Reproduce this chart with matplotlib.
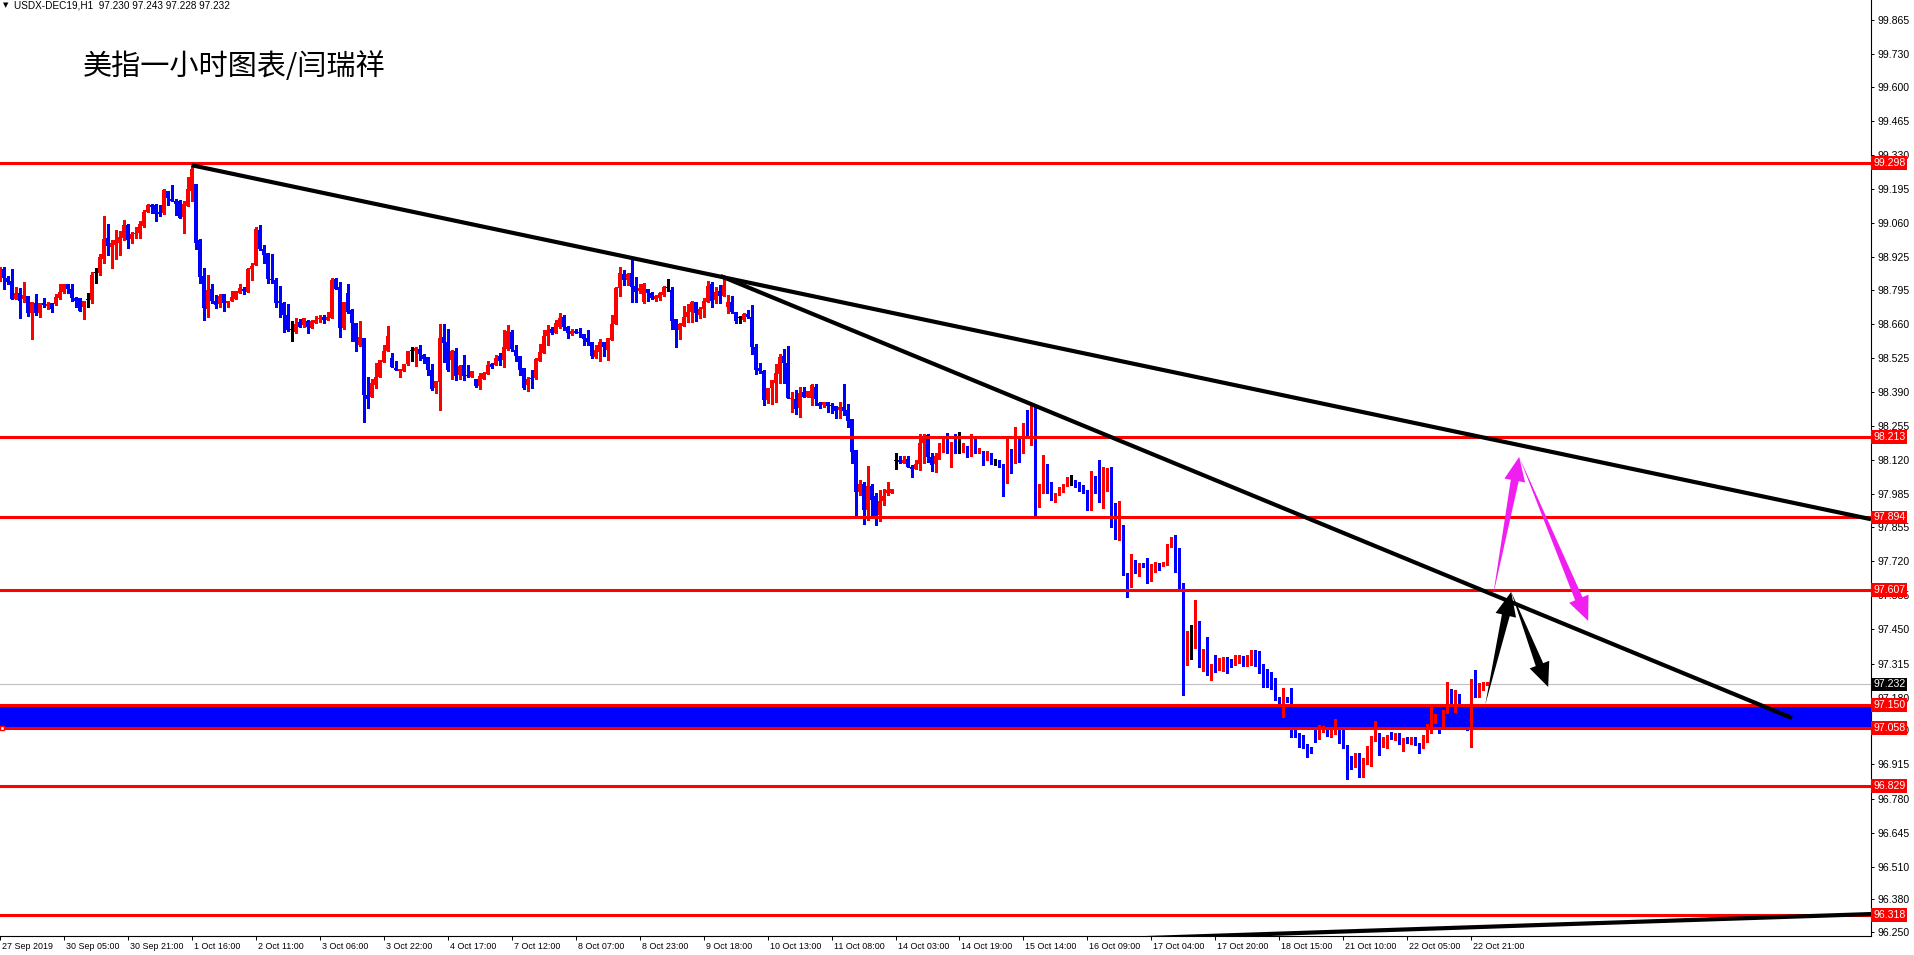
import numpy as np
import matplotlib
matplotlib.use("Agg")
import matplotlib.pyplot as plt
import matplotlib.transforms as mtransforms
from matplotlib import font_manager
from matplotlib.patches import Polygon

# ---- USDX-DEC19 H1 bars (27 Sep 2019 .. 22 Oct 2019) ----
opens = [
    98.845, 98.877, 98.842, 98.831, 98.761, 98.785, 98.761, 98.772, 98.703, 98.743,  # 0
    98.706, 98.745, 98.733, 98.743, 98.740, 98.765, 98.789, 98.819, 98.801, 98.764,  # 10
    98.764, 98.729, 98.756, 98.756, 98.863, 98.861, 98.920, 99.002, 98.967, 98.974,  # 20
    98.983, 99.002, 99.053, 98.998, 99.016, 99.020, 99.049, 99.106, 99.132, 99.132,  # 30
    99.106, 99.101, 99.188, 99.155, 99.148, 99.148, 99.086, 99.130, 99.189, 99.216,  # 40
    98.994, 98.850, 98.721, 98.799, 98.750, 98.740, 98.780, 98.745, 98.752, 98.761,  # 50
    98.785, 98.801, 98.787, 98.880, 98.896, 99.033, 98.958, 98.941, 98.839, 98.835,  # 60
    98.750, 98.745, 98.698, 98.636, 98.629, 98.670, 98.655, 98.673, 98.646, 98.663,  # 70
    98.680, 98.688, 98.675, 98.686, 98.838, 98.809, 98.646, 98.783, 98.716, 98.663,  # 80
    98.579, 98.605, 98.379, 98.370, 98.420, 98.452, 98.511, 98.555, 98.527, 98.488,  # 90
    98.476, 98.476, 98.502, 98.555, 98.552, 98.562, 98.537, 98.531, 98.479, 98.409,  # 100
    98.429, 98.608, 98.588, 98.518, 98.555, 98.458, 98.498, 98.460, 98.452, 98.443,  # 110
    98.417, 98.444, 98.463, 98.501, 98.498, 98.534, 98.518, 98.563, 98.629, 98.558,  # 120
    98.534, 98.487, 98.419, 98.448, 98.445, 98.515, 98.547, 98.613, 98.641, 98.624,  # 130
    98.650, 98.687, 98.648, 98.621, 98.635, 98.631, 98.621, 98.604, 98.591, 98.531,  # 140
    98.550, 98.588, 98.558, 98.597, 98.661, 98.804, 98.859, 98.835, 98.862, 98.812,  # 150
    98.792, 98.749, 98.798, 98.785, 98.759, 98.764, 98.775, 98.802, 98.796, 98.681,  # 160
    98.637, 98.653, 98.687, 98.709, 98.746, 98.698, 98.722, 98.746, 98.820, 98.756,  # 170
    98.792, 98.772, 98.727, 98.746, 98.710, 98.684, 98.677, 98.701, 98.687, 98.571,  # 180
    98.488, 98.475, 98.360, 98.406, 98.428, 98.463, 98.534, 98.505, 98.362, 98.363,  # 190
    98.327, 98.393, 98.370, 98.366, 98.413, 98.346, 98.339, 98.351, 98.340, 98.336,  # 200
    98.320, 98.331, 98.320, 98.283, 98.162, 97.996, 98.027, 97.924, 98.019, 97.979,  # 210
    97.905, 97.961, 97.990, 97.992, 98.117, 98.122, 98.111, 98.125, 98.093, 98.085,  # 220
    98.106, 98.191, 98.221, 98.135, 98.106, 98.133, 98.172, 98.201, 98.151, 98.172,  # 230
    98.155, 98.159, 98.177, 98.142, 98.204, 98.151, 98.159, 98.122, 98.148, 98.115,  # 240
    98.114, 98.102, 98.036, 98.155, 98.115, 98.191, 98.155, 98.241, 98.212, 98.333,  # 250
    97.977, 98.003, 98.072, 98.014, 97.966, 97.983, 98.001, 98.023, 98.027, 98.036,  # 260
    98.027, 98.019, 97.996, 97.935, 98.040, 98.006, 97.966, 98.056, 98.058, 97.937,  # 270
    97.805, 97.864, 97.670, 97.622, 97.702, 97.691, 97.710, 97.710, 97.646, 97.683,  # 280
    97.707, 97.704, 97.715, 97.781, 97.805, 97.739, 97.630, 97.329, 97.411, 97.415,  # 290
    97.485, 97.303, 97.422, 97.279, 97.296, 97.292, 97.313, 97.325, 97.319, 97.309,  # 300
    97.332, 97.345, 97.305, 97.345, 97.355, 97.349, 97.309, 97.266, 97.250, 97.247,  # 310
    97.170, 97.138, 97.184, 97.173, 97.060, 97.025, 97.025, 96.992, 96.979, 97.058,  # 320
    97.019, 97.049, 97.058, 97.028, 97.038, 97.058, 97.036, 96.992, 96.946, 96.906,  # 330
    96.953, 96.893, 96.926, 96.953, 97.009, 97.032, 96.996, 97.015, 97.032, 97.019,  # 340
    97.015, 96.999, 97.015, 96.999, 97.019, 96.996, 96.983, 97.028, 97.071, 97.081,  # 350
    97.080, 97.062, 97.124, 97.208, 97.138, 97.177, 97.090, 97.062, 97.058, 97.239,  # 360
    97.186, 97.210, 97.230,                                                          # 370
]
highs = [
    98.885, 98.885, 98.851, 98.877, 98.807, 98.802, 98.826, 98.772, 98.748, 98.780,
    98.743, 98.764, 98.748, 98.743, 98.780, 98.819, 98.819, 98.819, 98.819, 98.769,
    98.764, 98.753, 98.782, 98.868, 98.884, 98.938, 99.089, 99.057, 98.994, 99.033,
    99.031, 99.073, 99.057, 99.027, 99.044, 99.070, 99.113, 99.135, 99.135, 99.135,
    99.132, 99.197, 99.188, 99.212, 99.156, 99.152, 99.150, 99.245, 99.298, 99.216,
    98.998, 98.883, 98.855, 98.819, 98.774, 98.780, 98.780, 98.750, 98.793, 98.791,
    98.819, 98.807, 98.883, 98.904, 99.044, 99.052, 98.974, 98.941, 98.939, 98.842,
    98.811, 98.748, 98.740, 98.673, 98.683, 98.679, 98.683, 98.676, 98.676, 98.694,
    98.696, 98.696, 98.707, 98.843, 98.843, 98.827, 98.747, 98.819, 98.719, 98.663,
    98.674, 98.605, 98.451, 98.443, 98.505, 98.518, 98.577, 98.653, 98.544, 98.514,
    98.484, 98.502, 98.555, 98.568, 98.568, 98.578, 98.542, 98.531, 98.501, 98.435,
    98.661, 98.661, 98.640, 98.558, 98.564, 98.498, 98.538, 98.498, 98.475, 98.443,
    98.465, 98.472, 98.514, 98.508, 98.538, 98.545, 98.637, 98.657, 98.637, 98.578,
    98.534, 98.487, 98.452, 98.478, 98.527, 98.582, 98.637, 98.657, 98.650, 98.677,
    98.703, 98.696, 98.653, 98.642, 98.641, 98.646, 98.621, 98.637, 98.591, 98.578,
    98.600, 98.588, 98.604, 98.697, 98.809, 98.888, 98.875, 98.862, 98.925, 98.849,
    98.819, 98.822, 98.798, 98.788, 98.775, 98.788, 98.811, 98.838, 98.806, 98.681,
    98.666, 98.732, 98.740, 98.753, 98.749, 98.730, 98.763, 98.833, 98.829, 98.806,
    98.815, 98.849, 98.776, 98.772, 98.710, 98.693, 98.706, 98.716, 98.736, 98.582,
    98.505, 98.479, 98.409, 98.439, 98.502, 98.542, 98.561, 98.574, 98.393, 98.400,
    98.410, 98.410, 98.397, 98.423, 98.423, 98.353, 98.351, 98.351, 98.347, 98.336,
    98.353, 98.423, 98.344, 98.283, 98.162, 98.043, 98.036, 98.098, 98.027, 97.990,
    98.003, 98.006, 98.036, 98.006, 98.148, 98.138, 98.138, 98.138, 98.102, 98.122,
    98.225, 98.225, 98.225, 98.148, 98.148, 98.191, 98.204, 98.228, 98.194, 98.225,
    98.234, 98.188, 98.177, 98.225, 98.204, 98.168, 98.159, 98.159, 98.148, 98.125,
    98.122, 98.106, 98.208, 98.164, 98.254, 98.204, 98.267, 98.318, 98.344, 98.340,
    98.026, 98.142, 98.106, 98.036, 97.990, 98.016, 98.027, 98.053, 98.063, 98.043,
    98.036, 98.023, 98.003, 98.080, 98.059, 98.122, 98.093, 98.089, 98.095, 97.950,
    97.960, 97.864, 97.675, 97.749, 97.726, 97.712, 97.715, 97.732, 97.710, 97.719,
    97.715, 97.719, 97.789, 97.815, 97.825, 97.772, 97.635, 97.442, 97.468, 97.567,
    97.485, 97.371, 97.422, 97.313, 97.349, 97.336, 97.340, 97.342, 97.332, 97.349,
    97.349, 97.345, 97.349, 97.369, 97.369, 97.366, 97.313, 97.292, 97.283, 97.256,
    97.184, 97.217, 97.184, 97.217, 97.078, 97.038, 97.032, 96.996, 96.983, 97.071,
    97.071, 97.068, 97.058, 97.062, 97.095, 97.068, 97.052, 96.992, 96.948, 96.962,
    96.959, 96.939, 96.988, 97.028, 97.089, 97.038, 97.025, 97.032, 97.045, 97.041,
    97.038, 97.018, 97.022, 97.025, 97.022, 97.001, 97.032, 97.075, 97.143, 97.115,
    97.085, 97.131, 97.243, 97.213, 97.210, 97.194, 97.110, 97.071, 97.252, 97.289,
    97.237, 97.243, 97.243,
]
lows = [
    98.830, 98.801, 98.819, 98.761, 98.761, 98.686, 98.747, 98.694, 98.603, 98.698,
    98.690, 98.727, 98.721, 98.710, 98.735, 98.760, 98.782, 98.785, 98.753, 98.729,
    98.713, 98.682, 98.729, 98.745, 98.824, 98.856, 98.901, 98.933, 98.884, 98.917,
    98.935, 98.994, 98.963, 98.983, 99.003, 99.003, 99.044, 99.103, 99.102, 99.070,
    99.089, 99.098, 99.131, 99.147, 99.091, 99.082, 99.023, 99.130, 99.148, 98.957,
    98.822, 98.678, 98.690, 98.745, 98.723, 98.729, 98.713, 98.729, 98.750, 98.758,
    98.785, 98.780, 98.787, 98.835, 98.896, 98.954, 98.904, 98.825, 98.822, 98.729,
    98.690, 98.629, 98.633, 98.592, 98.626, 98.647, 98.650, 98.626, 98.646, 98.663,
    98.670, 98.666, 98.675, 98.686, 98.801, 98.610, 98.641, 98.703, 98.595, 98.555,
    98.575, 98.273, 98.326, 98.370, 98.406, 98.452, 98.511, 98.555, 98.492, 98.478,
    98.449, 98.476, 98.498, 98.515, 98.496, 98.518, 98.508, 98.458, 98.399, 98.389,
    98.320, 98.512, 98.476, 98.442, 98.439, 98.442, 98.439, 98.450, 98.452, 98.413,
    98.403, 98.444, 98.463, 98.487, 98.498, 98.498, 98.492, 98.558, 98.555, 98.516,
    98.459, 98.404, 98.397, 98.406, 98.443, 98.515, 98.547, 98.578, 98.621, 98.624,
    98.644, 98.637, 98.604, 98.617, 98.624, 98.611, 98.578, 98.576, 98.525, 98.525,
    98.516, 98.534, 98.518, 98.597, 98.661, 98.772, 98.815, 98.815, 98.746, 98.749,
    98.785, 98.745, 98.753, 98.759, 98.753, 98.756, 98.772, 98.792, 98.640, 98.569,
    98.600, 98.653, 98.670, 98.670, 98.674, 98.683, 98.687, 98.746, 98.730, 98.745,
    98.745, 98.772, 98.703, 98.706, 98.664, 98.666, 98.674, 98.683, 98.542, 98.463,
    98.465, 98.340, 98.347, 98.344, 98.353, 98.428, 98.428, 98.366, 98.310, 98.305,
    98.294, 98.370, 98.370, 98.340, 98.340, 98.327, 98.331, 98.310, 98.307, 98.287,
    98.287, 98.300, 98.254, 98.111, 97.900, 97.983, 97.870, 97.885, 97.900, 97.865,
    97.880, 97.944, 97.983, 97.990, 98.085, 98.109, 98.111, 98.093, 98.056, 98.085,
    98.082, 98.111, 98.114, 98.080, 98.076, 98.125, 98.155, 98.148, 98.093, 98.151,
    98.151, 98.155, 98.133, 98.138, 98.148, 98.148, 98.102, 98.122, 98.106, 98.102,
    98.093, 97.979, 98.032, 98.069, 98.111, 98.115, 98.151, 98.212, 98.181, 97.890,
    97.937, 97.990, 97.990, 97.963, 97.957, 97.983, 97.996, 98.019, 98.023, 98.014,
    98.000, 97.990, 97.924, 97.924, 97.990, 97.957, 97.930, 98.000, 97.858, 97.809,
    97.805, 97.666, 97.580, 97.617, 97.675, 97.660, 97.699, 97.636, 97.643, 97.679,
    97.686, 97.702, 97.706, 97.776, 97.679, 97.613, 97.190, 97.309, 97.332, 97.375,
    97.303, 97.287, 97.270, 97.250, 97.283, 97.289, 97.287, 97.276, 97.300, 97.309,
    97.316, 97.305, 97.305, 97.309, 97.305, 97.279, 97.221, 97.223, 97.213, 97.170,
    97.144, 97.104, 97.164, 97.025, 97.022, 96.983, 96.979, 96.946, 96.962, 97.005,
    97.015, 97.045, 97.028, 97.025, 97.036, 97.001, 96.979, 96.856, 96.896, 96.904,
    96.864, 96.864, 96.917, 96.909, 97.009, 96.953, 96.983, 96.979, 97.015, 97.012,
    96.996, 96.970, 96.999, 96.996, 96.992, 96.962, 96.979, 97.005, 97.041, 97.078,
    97.041, 97.058, 97.120, 97.115, 97.124, 97.065, 97.060, 97.050, 96.983, 97.181,
    97.181, 97.210, 97.228,
]
closes = [
    98.877, 98.842, 98.828, 98.761, 98.785, 98.753, 98.776, 98.706, 98.748, 98.706,
    98.743, 98.737, 98.740, 98.721, 98.766, 98.786, 98.819, 98.801, 98.765, 98.753,
    98.713, 98.753, 98.756, 98.855, 98.863, 98.928, 98.998, 98.970, 98.983, 98.994,
    99.006, 99.053, 98.994, 99.019, 99.023, 99.058, 99.106, 99.132, 99.126, 99.098,
    99.098, 99.193, 99.161, 99.148, 99.138, 99.082, 99.136, 99.194, 99.274, 98.983,
    98.848, 98.725, 98.795, 98.750, 98.737, 98.773, 98.743, 98.750, 98.769, 98.791,
    98.803, 98.791, 98.880, 98.891, 99.039, 98.958, 98.935, 98.838, 98.835, 98.745,
    98.744, 98.698, 98.637, 98.636, 98.661, 98.650, 98.683, 98.650, 98.673, 98.676,
    98.686, 98.676, 98.688, 98.835, 98.801, 98.646, 98.747, 98.710, 98.666, 98.588,
    98.610, 98.379, 98.365, 98.427, 98.451, 98.518, 98.555, 98.613, 98.492, 98.478,
    98.484, 98.502, 98.555, 98.555, 98.566, 98.541, 98.521, 98.479, 98.402, 98.435,
    98.607, 98.587, 98.479, 98.554, 98.456, 98.496, 98.456, 98.455, 98.475, 98.417,
    98.455, 98.465, 98.498, 98.492, 98.526, 98.514, 98.571, 98.635, 98.561, 98.532,
    98.479, 98.407, 98.444, 98.443, 98.522, 98.548, 98.613, 98.637, 98.624, 98.666,
    98.683, 98.648, 98.627, 98.633, 98.627, 98.627, 98.600, 98.591, 98.534, 98.558,
    98.590, 98.569, 98.604, 98.661, 98.804, 98.864, 98.835, 98.857, 98.806, 98.788,
    98.804, 98.818, 98.785, 98.764, 98.772, 98.785, 98.806, 98.802, 98.674, 98.637,
    98.661, 98.690, 98.710, 98.746, 98.706, 98.722, 98.750, 98.812, 98.753, 98.789,
    98.772, 98.816, 98.749, 98.710, 98.674, 98.684, 98.701, 98.690, 98.571, 98.479,
    98.476, 98.360, 98.409, 98.439, 98.465, 98.528, 98.505, 98.366, 98.369, 98.323,
    98.386, 98.370, 98.397, 98.419, 98.365, 98.337, 98.351, 98.337, 98.334, 98.314,
    98.330, 98.314, 98.278, 98.155, 97.996, 98.027, 97.924, 98.019, 97.963, 97.900,
    97.961, 97.979, 98.003, 98.006, 98.117, 98.114, 98.122, 98.093, 98.085, 98.106,
    98.191, 98.214, 98.133, 98.102, 98.138, 98.172, 98.191, 98.151, 98.172, 98.159,
    98.155, 98.181, 98.148, 98.221, 98.151, 98.162, 98.119, 98.154, 98.111, 98.115,
    98.098, 98.032, 98.155, 98.111, 98.181, 98.151, 98.241, 98.221, 98.333, 97.977,
    98.009, 98.074, 98.000, 97.963, 97.987, 98.003, 98.023, 98.036, 98.027, 98.019,
    98.010, 97.996, 97.930, 98.043, 97.996, 97.963, 98.062, 98.063, 97.937, 97.811,
    97.864, 97.666, 97.622, 97.706, 97.692, 97.702, 97.702, 97.646, 97.683, 97.702,
    97.697, 97.715, 97.785, 97.805, 97.739, 97.630, 97.333, 97.419, 97.411, 97.428,
    97.332, 97.371, 97.276, 97.305, 97.289, 97.313, 97.325, 97.289, 97.305, 97.332,
    97.349, 97.305, 97.349, 97.358, 97.345, 97.303, 97.260, 97.247, 97.249, 97.170,
    97.151, 97.184, 97.173, 97.030, 97.022, 97.015, 96.983, 96.972, 96.962, 97.019,
    97.058, 97.058, 97.036, 97.052, 97.095, 97.028, 96.988, 96.943, 96.906, 96.949,
    96.890, 96.933, 96.953, 97.021, 97.032, 96.996, 97.015, 97.028, 97.019, 97.036,
    96.999, 97.009, 97.005, 97.025, 96.996, 96.986, 97.028, 97.071, 97.089, 97.089,
    97.060, 97.128, 97.210, 97.155, 97.173, 97.155, 97.062, 97.050, 97.239, 97.184,
    97.234, 97.237, 97.232,
]

x_labels = ["27 Sep 2019", "30 Sep 05:00", "30 Sep 21:00", "1 Oct 16:00", "2 Oct 11:00",
            "3 Oct 06:00", "3 Oct 22:00", "4 Oct 17:00", "7 Oct 12:00", "8 Oct 07:00",
            "8 Oct 23:00", "9 Oct 18:00", "10 Oct 13:00", "11 Oct 08:00", "14 Oct 03:00",
            "14 Oct 19:00", "15 Oct 14:00", "16 Oct 09:00", "17 Oct 04:00", "17 Oct 20:00",
            "18 Oct 15:00", "21 Oct 10:00", "22 Oct 05:00", "22 Oct 21:00"]
bars_per_label = 16

y_ticks = [99.865, 99.730, 99.600, 99.465, 99.330, 99.195, 99.060, 98.925, 98.795,
           98.660, 98.525, 98.390, 98.255, 98.120, 97.985, 97.855, 97.720, 97.585,
           97.450, 97.315, 97.180, 97.050, 96.915, 96.780, 96.645, 96.510, 96.380, 96.250]

red_levels = [99.298, 98.213, 97.894, 97.607, 97.150, 97.058, 96.829, 96.318]
zone_low, zone_high = 97.058, 97.150
bid = 97.232

# trend lines: (bar, price) end points
trend_lines = [((48.0, 99.290), (468.0, 97.887)),
               ((180.25, 98.851), (448.25, 97.099)),
               ((262.0, 96.214), (468.0, 96.322))]
black_arrows = [((371.5, 97.151), (378.0, 97.599)),
                ((378.0, 97.599), (387.25, 97.222))]
magenta_arrows = [((373.5, 97.587), (380.0, 98.134)),
                  ((380.0, 98.134), (397.25, 97.484))]

title = "美指一小时图表/闫瑞祥"
header = "USDX-DEC19,H1  97.230 97.243 97.228 97.232"

# ---- fonts ----
names = {f.name for f in font_manager.fontManager.ttflist}
if "Liberation Sans Narrow" in names:
    xfont, xsize = "Liberation Sans Narrow", 7.4
else:
    xfont, xsize = "Liberation Sans", 6.4
yfont = "Liberation Sans" if "Liberation Sans" in names else "DejaVu Sans"

W, H, DPI = 1914, 955, 100
fig = plt.figure(figsize=(W / DPI, H / DPI), dpi=DPI, facecolor="white")
ax_w, ax_h = 1871, 936
ax = fig.add_axes([0, (H - ax_h) / H, ax_w / W, ax_h / H])
ax.set_xlim(0.25, 468.0)
ax.set_ylim(96.235, 99.945)

o = np.array(opens); h = np.array(highs); l = np.array(lows); c = np.array(closes)
h = np.maximum(h, np.maximum(o, c))
l = np.minimum(l, np.minimum(o, c))
x = np.arange(len(o))
cols = np.where(c > o, "#FF0000", np.where(c < o, "#0000FF", "#000000"))

# zone + bid line behind the candles
ax.axhspan(zone_low, zone_high, color="#0000FF", lw=0, zorder=1)
ax.axhline(bid, color="#C0C0C0", lw=0.8, zorder=1.5)

ax.vlines(x, l, h, colors=cols, linewidth=0.8, antialiased=False, zorder=2)
body = np.maximum(np.abs(c - o), 0.004)
ax.bar(x, body, bottom=np.minimum(o, c), width=0.8, color=cols, linewidth=0,
       antialiased=False, zorder=2)

for lv in red_levels:
    ax.axhline(lv, color="#FF0000", lw=2.2, zorder=3)
ax.plot([0.6], [zone_low], marker="s", ms=3, mfc="white", mec="#FF0000", mew=1, zorder=4,
        clip_on=False)

for (x0, y0), (x1, y1) in trend_lines:
    ax.plot([x0, x1], [y0, y1], color="black", lw=3, solid_capstyle="butt", zorder=5)


def fat_arrow(p0, p1, color, shaft_w=8, head_w=21, head_len=24):
    a = ax.transData.transform(p0)
    b = ax.transData.transform(p1)
    d = b - a
    u = d / np.hypot(*d)
    n = np.array([-u[1], u[0]])
    base = b - u * head_len
    pts = [a, base + n * shaft_w / 2, base + n * head_w / 2, b,
           base - n * head_w / 2, base - n * shaft_w / 2]
    pts = ax.transData.inverted().transform(np.array(pts))
    ax.add_patch(Polygon(pts, closed=True, fc=color, ec="none", zorder=6))


for s, t in magenta_arrows:
    fat_arrow(s, t, "#F01EF0")
for s, t in black_arrows:
    fat_arrow(s, t, "black")

# ---- axes styling ----
for sp in ("left", "top"):
    ax.spines[sp].set_visible(False)
for sp in ("right", "bottom"):
    ax.spines[sp].set_color("black")
    ax.spines[sp].set_linewidth(0.8)

ax.yaxis.tick_right()
ax.set_yticks(y_ticks)
ax.set_yticklabels([f"{v:.3f}" for v in y_ticks], family=yfont, fontsize=7.6)
ax.tick_params(axis="y", length=2.5, width=0.7, pad=2)

ax.set_xticks(np.arange(len(x_labels)) * bars_per_label)
ax.set_xticklabels(x_labels, family=xfont, fontsize=xsize, ha="left")
ax.tick_params(axis="x", length=3, width=0.7, pad=1)
shift = mtransforms.ScaledTranslation(2 / DPI, 0, fig.dpi_scale_trans)
for lab in ax.get_xticklabels():
    lab.set_transform(lab.get_transform() + shift)

# price tags on the right axis
tag_x = 1 + 2 / ax_w
for lv in red_levels:
    ax.text(tag_x, lv, f"{lv:.3f}", transform=ax.get_yaxis_transform(), ha="left",
            va="center", fontsize=7.6, family=yfont, color="white", zorder=10,
            clip_on=False, bbox=dict(boxstyle="square,pad=0.18", fc="#FF0000", ec="none"))
ax.text(tag_x, bid, f"{bid:.3f}", transform=ax.get_yaxis_transform(), ha="left",
        va="center", fontsize=7.6, family=yfont, color="white", zorder=10, clip_on=False,
        bbox=dict(boxstyle="square,pad=0.18", fc="black", ec="none"))

# header and title
ax.text(3 / ax_w, 1 - 5 / ax_h, "▼", transform=ax.transAxes, fontsize=5,
        family="DejaVu Sans", va="center", ha="left")
ax.text(14 / ax_w, 1 - 5 / ax_h, header, transform=ax.transAxes, fontsize=7.2,
        family=yfont, va="center", ha="left")
ax.text(83 / ax_w, 1 - 67 / ax_h, title, transform=ax.transAxes, fontsize=21,
        family=["Noto Sans CJK SC", "DejaVu Sans"], va="center", ha="left")

fig.savefig("out.png", dpi=DPI, facecolor="white")
